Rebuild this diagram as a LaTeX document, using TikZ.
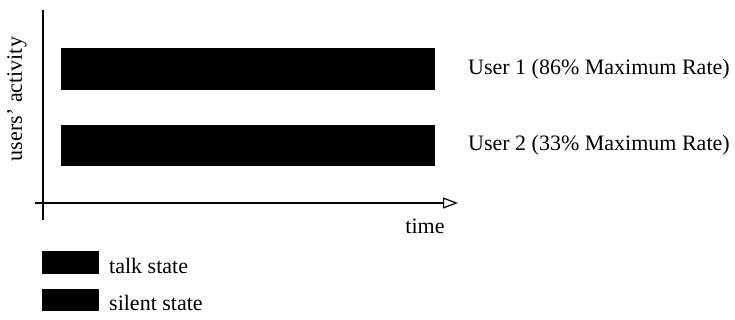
\documentclass[tikz,border=0pt]{standalone}
\usepackage{fontspec}
\setmainfont{Liberation Serif}
\usetikzlibrary{arrows.meta, positioning}
\tikzset{
  statebar/.style={fill=black, draw=black, minimum width=372pt, minimum height=40pt, inner sep=0pt},
  keybox/.style={fill=black, draw=black, minimum width=55pt, minimum height=21pt, inner sep=0pt},
  lbl/.style={font=\fontsize{22}{26}\selectfont, inner sep=0pt},
}

\begin{document}
\begin{tikzpicture}[x=1pt, y=-1pt, >={Triangle[open, length=15pt, width=11pt]}, line width=1.2pt]
    \useasboundingbox (0,0) rectangle (735,320);

    % Axes
    \coordinate (yBot) at (43,220);
    \coordinate (yTop) at (43,10);
    \coordinate (xLeft) at (35,203);
    \coordinate (xRight) at (458,203);
    \draw (yBot) -- (yTop);
    \draw[->] (xLeft) -- (xRight);
    \node[lbl, rotate=90] (yLabel) at (17,99) {users' activity};
    \node[lbl] (xLabel) at (425,226) {time};

    % Activity bars of the two users
    \node[statebar] (userOneBar) at (248,69) {};
    \node[statebar] (userTwoBar) at (248,145.5) {};
    \node[lbl, right=33pt of userOneBar] (userOneLabel) {User 1 (86\% Maximum Rate)};
    \node[lbl, right=33pt of userTwoBar] (userTwoLabel) {User 2 (33\% Maximum Rate)};

    % Legend
    \node[keybox] (talkKey) at (70.5,262.5) {};
    \node[keybox, below=15pt of talkKey] (silentKey) {};
    \node[lbl, right=10pt of talkKey, yshift=-3pt] (talkLabel) {talk state};
    \node[lbl, right=10pt of silentKey, yshift=-3pt] (silentLabel) {silent state};
\end{tikzpicture}
\end{document}
